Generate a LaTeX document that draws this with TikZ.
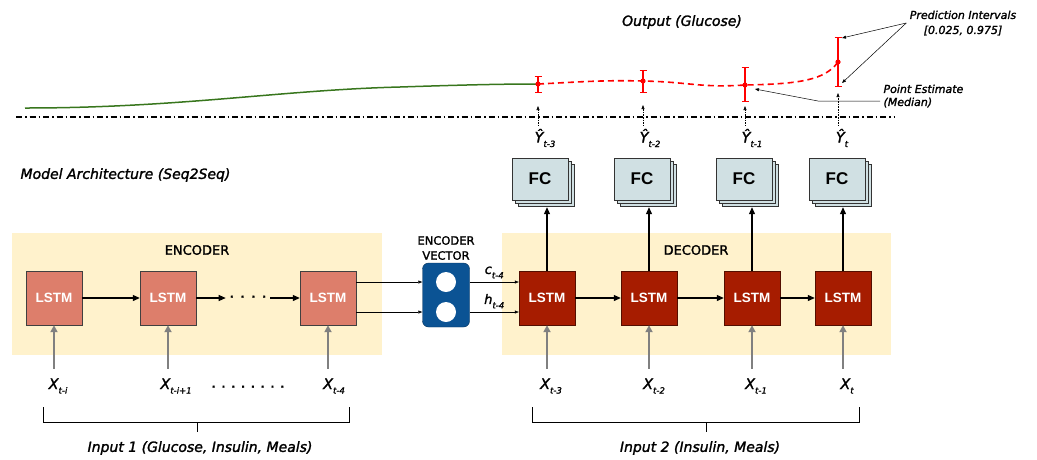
\documentclass[tikz,border=0pt]{standalone}
\usepackage{fontspec}
\setmainfont{DejaVu Sans}[FakeBold=1.6, ItalicFeatures={FakeBold=1.6}]
\newfontfamily\boxfont{Liberation Sans}
\usetikzlibrary{arrows.meta, positioning, calc, shadows}
\definecolor{encred}{HTML}{DD7E6B}
\definecolor{decred}{HTML}{A61C00}
\definecolor{vecblue}{HTML}{0B5394}
\definecolor{fccyan}{HTML}{D0E0E3}
\definecolor{panelyellow}{HTML}{FFF2CC}
\definecolor{curvegreen}{HTML}{38761D}
\definecolor{inputgray}{HTML}{808080}
\newcommand{\lowsub}[1]{\raisebox{-4.5pt}{\fontsize{8.5}{8.5}\selectfont #1}}

\tikzset{
  lstm/.style={draw=black!75, minimum width=56pt, minimum height=54pt, text=white, font=\boxfont\bfseries\fontsize{13.5}{13.5}\selectfont},
  enclstm/.style={lstm, fill=encred},
  declstm/.style={lstm, fill=decred, draw=decred!50!black},
  fcbox/.style={draw=black!80, fill=fccyan, minimum width=56pt, minimum height=42pt, font=\boxfont\bfseries\fontsize{17}{17}\selectfont, double copy shadow={shadow xshift=3pt, shadow yshift=-3pt}},
  flow/.style={-{Triangle[length=7pt,width=6pt]}, line width=1.1pt},
  inarrow/.style={-{Triangle[length=7pt,width=7pt]}, line width=1.8pt, inputgray},
  thinarrow/.style={-{Triangle[length=4pt,width=3pt]}, line width=0.5pt},
  dotarrow/.style={-{Triangle[length=4pt,width=3pt]}, densely dotted, line width=0.6pt},
  errbar/.style={red, line width=1.2pt, {Bar[width=7pt]}-{Bar[width=7pt]}},
  lbl/.style={font=\itshape\fontsize{14}{16}\selectfont},
  xlbl/.style={font=\itshape\fontsize{14.5}{16}\selectfont},
  panellbl/.style={font=\fontsize{13}{15}\selectfont},
}

\begin{document}
\begin{tikzpicture}[x=1pt, y=-1pt]
  \useasboundingbox (0,0) rectangle (1037,459);

  % output part
  \draw[curvegreen, line width=1.5pt] (25,108) .. controls (180,108) and (280,90) .. (400,87) .. controls (460,85) and (500,84) .. (537,84);
  \coordinate (m1) at (538,84);
  \coordinate (m2) at (643,81);
  \coordinate (m3) at (745,85);
  \coordinate (m4) at (838,62);
  \draw[red, line width=1.6pt, dash pattern=on 6pt off 4pt] (m1) .. controls (580,82) and (600,80) .. (m2) .. controls (690,82) and (700,88) .. (m3) .. controls (800,84) and (825,80) .. (m4);
  \foreach \x/\lo/\hi in {538/76/93, 643/70/93, 745/67/102, 838/37/87}
    \draw[errbar] (\x,\lo) -- (\x,\hi);
  \foreach \i in {1,...,4}
    \fill[red] (m\i) circle (2.6pt);
  \draw[line width=1.2pt, dash pattern=on 6pt off 3pt on 1.5pt off 3pt] (16,117) -- (895,117);

  \node[lbl] (out) at (682,22) {Output (Glucose)};
  \node[font=\itshape\fontsize{11}{15}\selectfont, align=center] (pi) at (963,23) {Prediction Intervals\\{[0.025, 0.975]}};
  \node[font=\itshape\fontsize{11}{13}\selectfont, align=left, anchor=west] (pe) at (880,96) {Point Estimate\\(Median)};
  \coordinate (pihi) at (842,38);
  \coordinate (pilo) at (842,83);
  \coordinate (bend) at (818,101);
  \draw[thinarrow] (pi.west) -- (pihi);
  \draw[thinarrow] (pi.west) -- (pilo);
  \draw[thinarrow] (pe.west |- bend) -- (bend) -- ($(m3)+(10,4)$);

  % predictions
  \node[xlbl] (yh1) at (545,138) {Ŷ\lowsub{t-3}};
  \node[xlbl] (yh2) at (650,138) {Ŷ\lowsub{t-2}};
  \node[xlbl] (yh3) at (752,138) {Ŷ\lowsub{t-1}};
  \node[xlbl] (yh4) at (842,138) {Ŷ\lowsub{t}};
  \foreach \i/\t in {1/106, 2/105, 3/106, 4/93}
    \draw[dotarrow] (yh\i.north -| m\i) -- (m\i |- 0,\t);

  \node[lbl, anchor=west] (arch) at (17,175) {Model Architecture (Seq2Seq)};

  % panels
  \fill[panelyellow] (12,233) rectangle (382,355);
  \fill[panelyellow] (502,233) rectangle (891,355);
  \node[panellbl] (enc) at (197,250) {ENCODER};
  \node[panellbl] (dec) at (696,250) {DECODER};

  % encoder
  \node[enclstm] (e1) at (54,298) {LSTM};
  \node[enclstm] (e2) at (168,298) {LSTM};
  \node[enclstm] (e3) at (328,298) {LSTM};
  \node[font=\bfseries, inner sep=4pt] (edots) at (248,298) {·\hspace{7pt}·\hspace{7pt}·\hspace{7pt}·};
  \draw[flow] (e1) -- (e2);
  \draw[flow] (e2) -- (edots);
  \draw[flow] (edots) -- (e3);

  % encoder vector
  \node[panellbl, font=\fontsize{11.5}{15}\selectfont, align=center] (evlbl) at (446,248) {ENCODER\\VECTOR};
  \node[draw=vecblue!60!black, fill=vecblue, rounded corners=6pt, minimum width=47pt, minimum height=64pt] (ev) at (446,295) {};
  \node[circle, fill=white, minimum size=20pt, inner sep=0pt] (c1) at (446,282) {};
  \node[circle, fill=white, minimum size=20pt, inner sep=0pt] (c2) at (446,312) {};

  % decoder
  \node[declstm] (d1) at (547,298) {LSTM};
  \node[declstm] (d2) at (649,298) {LSTM};
  \node[declstm] (d3) at (752,298) {LSTM};
  \node[declstm] (d4) at (843,298) {LSTM};
  \draw[flow] (d1) -- (d2);
  \draw[flow] (d2) -- (d3);
  \draw[flow] (d3) -- (d4);

  \draw[thinarrow] (e3.east |- c1) -- (ev.west |- c1);
  \draw[thinarrow] (e3.east |- c2) -- (ev.west |- c2);
  \draw[thinarrow] (ev.east |- c1) -- (d1.west |- c1) node[xlbl, midway, above, font=\itshape\fontsize{13}{15}\selectfont] {c\lowsub{t-4}};
  \draw[thinarrow] (ev.east |- c2) -- (d1.west |- c2) node[xlbl, midway, above, font=\itshape\fontsize{13}{15}\selectfont] {h\lowsub{t-4}};

  % FC layers
  \node[fcbox] (f1) at (540,179) {FC};
  \node[fcbox] (f2) at (642,179) {FC};
  \node[fcbox] (f3) at (744,179) {FC};
  \node[fcbox] (f4) at (837,179) {FC};
  \foreach \i in {1,...,4}
    \draw[flow] (d\i.north) -- ($(d\i.north |- f\i.south)+(0,7)$);

  % inputs
  \node[xlbl] (xe1) at (58,386) {X\lowsub{t-i}};
  \node[xlbl] (xe2) at (176,386) {X\lowsub{t-i+1}};
  \node[font=\bfseries] (xdots) at (248,388) {·\hspace{6pt}·\hspace{6pt}·\hspace{6pt}·\hspace{6pt}·\hspace{6pt}·\hspace{6pt}·\hspace{6pt}·};
  \node[xlbl] (xe3) at (334,386) {X\lowsub{t-4}};
  \node[xlbl] (xd1) at (551,386) {X\lowsub{t-3}};
  \node[xlbl] (xd2) at (654,386) {X\lowsub{t-2}};
  \node[xlbl] (xd3) at (756,386) {X\lowsub{t-1}};
  \node[xlbl] (xd4) at (847,386) {X\lowsub{t}};
  \foreach \i in {1,2,3}
    \draw[inarrow] ($(e\i.south |- xe\i.north)+(0,-6)$) -- (e\i.south);
  \foreach \i in {1,...,4}
    \draw[inarrow] ($(d\i.south |- xd\i.north)+(0,-6)$) -- (d\i.south);

  \draw[line width=0.6pt] (43,407) -- (43,422) -- (349,422) -- (349,407);
  \draw[line width=0.6pt] (197,422) -- (197,432);
  \draw[line width=0.6pt] (532,407) -- (532,422) -- (859,422) -- (859,407);
  \draw[line width=0.6pt] (706,422) -- (706,432);
  \node[lbl] (in1) at (200,448) {Input 1 (Glucose, Insulin, Meals)};
  \node[lbl] (in2) at (700,448) {Input 2 (Insulin, Meals)};
\end{tikzpicture}
\end{document}
